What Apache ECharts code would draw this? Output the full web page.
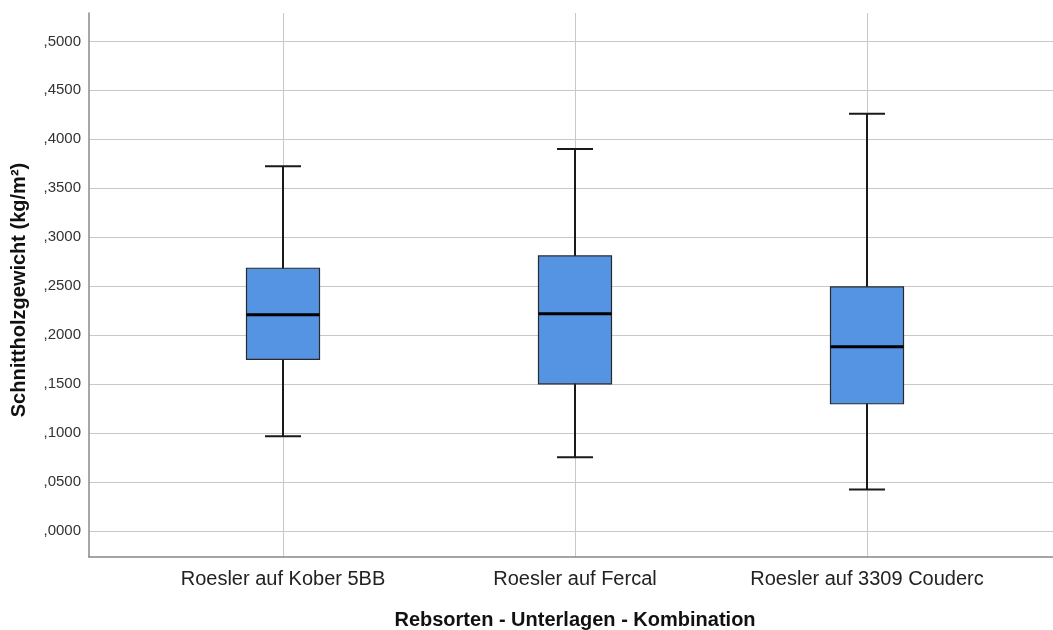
<!DOCTYPE html>
<html>
<head>
<meta charset="utf-8">
<style>
  html, body { margin: 0; padding: 0; background: #ffffff; }
  #chart { width: 1053px; height: 630px; }
</style>
<script src="https://cdn.jsdelivr.net/npm/echarts@6/dist/echarts.min.js"></script>
</head>
<body>
<div id="chart"></div>
<script>
// Box plot summary per rootstock combination (Schnittholzgewicht, kg/m²)
const categories = ['Roesler auf Kober 5BB', 'Roesler auf Fercal', 'Roesler auf 3309 Couderc'];
const whiskerLow  = [0.0968, 0.0754, 0.0423];
const quartile1   = [0.1753, 0.1503, 0.1299];
const median      = [0.2209, 0.2219, 0.1881];
const quartile3   = [0.2683, 0.2809, 0.2492];
const whiskerHigh = [0.3726, 0.3900, 0.4261];

const yTickValues = [0, 0.05, 0.10, 0.15, 0.20, 0.25, 0.30, 0.35, 0.40, 0.45, 0.50];

const Y_MIN = -0.0266;
const Y_MAX = 0.529;

const FONT = '"Liberation Sans", Arial, sans-serif';

// German style tick text without leading zero: ",2500"
function tickText(v) {
  const match = yTickValues.find(t => Math.abs(t - v) < 1e-9);
  if (match === undefined) return '';
  return ',' + match.toFixed(4).split('.')[1];
}

const boxData = categories.map((c, i) =>
  [i, whiskerLow[i], quartile1[i], median[i], quartile3[i], whiskerHigh[i]]);

function renderBox(params, api) {
  const idx = api.value(0);
  const pLow = api.coord([idx, api.value(1)]);
  const pQ1 = api.coord([idx, api.value(2)]);
  const pMed = api.coord([idx, api.value(3)]);
  const pQ3 = api.coord([idx, api.value(4)]);
  const pHigh = api.coord([idx, api.value(5)]);
  const x = pMed[0];
  const halfBox = 36.5;
  const halfCap = 18;
  const lineColor = '#1a1a1a';
  return {
    type: 'group',
    children: [
      { type: 'line', shape: { x1: x, y1: pHigh[1], x2: x, y2: pLow[1] },
        style: { stroke: lineColor, lineWidth: 2 } },
      { type: 'line', shape: { x1: x - halfCap, y1: pHigh[1], x2: x + halfCap, y2: pHigh[1] },
        style: { stroke: lineColor, lineWidth: 2 } },
      { type: 'line', shape: { x1: x - halfCap, y1: pLow[1], x2: x + halfCap, y2: pLow[1] },
        style: { stroke: lineColor, lineWidth: 2 } },
      { type: 'rect', shape: { x: x - halfBox, y: pQ3[1], width: halfBox * 2, height: pQ1[1] - pQ3[1] },
        style: { fill: '#5594e3', stroke: '#2a2a2a', lineWidth: 1.2 } },
      { type: 'line', shape: { x1: x - halfBox, y1: pMed[1], x2: x + halfBox, y2: pMed[1] },
        style: { stroke: '#000000', lineWidth: 3 } }
    ]
  };
}

const chart = echarts.init(document.getElementById('chart'), null, { renderer: 'canvas' });

chart.setOption({
  backgroundColor: '#ffffff',
  animation: false,
  grid: [
    { left: 89, right: 0, top: 13, bottom: 73, containLabel: false, outerBoundsMode: 'none' },
    { left: 283, right: 186, top: 13, bottom: 73, containLabel: false, outerBoundsMode: 'none' }
  ],
  xAxis: [
    {
      gridIndex: 0, type: 'value', min: 0, max: 1,
      axisLine: { show: true, onZero: false, lineStyle: { color: '#888888', width: 1.5 } },
      axisTick: { show: false }, axisLabel: { show: false }, splitLine: { show: false }
    },
    {
      gridIndex: 1, type: 'category', data: categories, boundaryGap: false,
      axisLine: { show: false, onZero: false },
      axisTick: { show: false, interval: 0 },
      axisLabel: { interval: 0, hideOverlap: false, margin: 12,
        fontFamily: FONT, fontSize: 20, color: '#222222' },
      splitLine: { show: true, interval: 0, lineStyle: { color: '#c8c8c8', width: 1 } },
      name: 'Rebsorten - Unterlagen - Kombination',
      nameLocation: 'middle', nameGap: 53,
      nameTextStyle: { fontFamily: FONT, fontSize: 20, fontWeight: 'bold', color: '#111111' }
    }
  ],
  yAxis: [
    {
      gridIndex: 0, type: 'value', min: Y_MIN, max: Y_MAX, splitNumber: 11,
      axisLine: { show: true, lineStyle: { color: '#888888', width: 1.5 } },
      axisTick: { show: false },
      axisLabel: {
        margin: 8, fontFamily: FONT, fontSize: 15, color: '#333333',
        showMinLabel: false, showMaxLabel: false, formatter: tickText
      },
      splitLine: { show: true, showMinLine: false, showMaxLine: false,
        lineStyle: { color: '#c8c8c8', width: 1 } },
      name: 'Schnittholzgewicht (kg/m²)',
      nameLocation: 'middle', nameGap: 60,
      nameTextStyle: { fontFamily: FONT, fontSize: 20, fontWeight: 'bold', color: '#111111',
        padding: [0, 10, 0, 0] }
    },
    {
      gridIndex: 1, type: 'value', min: Y_MIN, max: Y_MAX, show: false
    }
  ],
  series: [
    {
      type: 'custom',
      xAxisIndex: 1, yAxisIndex: 1,
      data: boxData,
      encode: { x: 0, y: [1, 2, 3, 4, 5] },
      renderItem: renderBox,
      clip: false
    }
  ]
});
</script>
</body>
</html>
